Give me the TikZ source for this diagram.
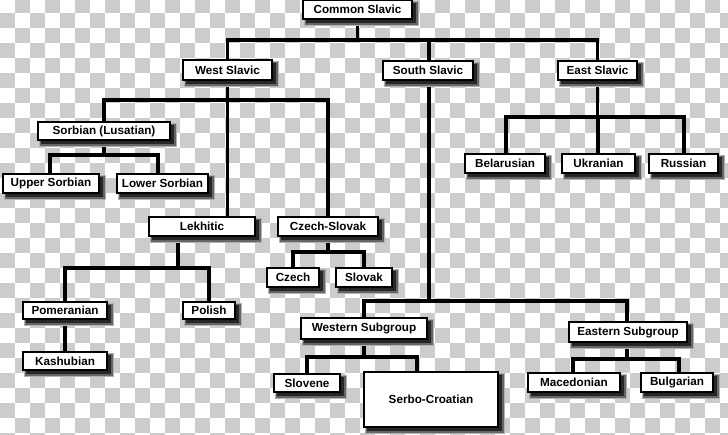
\documentclass[tikz,border=0pt]{standalone}
\usepackage{fontspec}
\setmainfont{Liberation Sans}
\usetikzlibrary{shadows,calc}
\pgfdeclarelayer{bg}
\pgfdeclarelayer{mid}
\pgfsetlayers{bg,mid,main}
\definecolor{chk}{RGB}{204,204,204}
\tikzset{
  lang/.style={draw=black, line width=2pt, fill=white, inner sep=0pt,
    font=\fontsize{11.7}{13}\selectfont\bfseries,
    general shadow={draw=black!30, fill=black!30, line width=6pt, shadow xshift=4pt, shadow yshift=-4pt},
    general shadow={draw=black!60, fill=black!60, line width=3.5pt, shadow xshift=4pt, shadow yshift=-4pt},
    general shadow={draw=black!85, fill=black!85, line width=1.5pt, shadow xshift=3.5pt, shadow yshift=-3.5pt}},
  conn/.style={line width=3.5pt, black},
}
\newcommand{\lbox}[6]{\node[lang, minimum width=#3, minimum height=#4] (#1) at (#5,#6) {#2};}
\begin{document}
\begin{tikzpicture}[x=1pt,y=-1pt]
\useasboundingbox (0,0) rectangle (728,434);
\begin{pgfonlayer}{bg}
\foreach \i in {0,2,...,48}{
  \foreach \j in {0,2,...,28}{
    \fill[fill=chk] ({15*\i+15},{15*\j-2.3}) rectangle ++(15,15);
    \fill[fill=chk] ({15*\i},{15*\j+12.7}) rectangle ++(15,15);
  }
}
\end{pgfonlayer}

\lbox{cs}{Common Slavic}{109pt}{19pt}{357.5}{9.5}
\lbox{ws}{West Slavic}{89pt}{20pt}{227.5}{70}
\lbox{ss}{South Slavic}{90pt}{19pt}{428}{70.5}
\lbox{es}{East Slavic}{79pt}{19pt}{597.5}{70.5}
\lbox{sorb}{Sorbian (Lusatian)}{132pt}{18pt}{104}{131}
\lbox{us}{Upper Sorbian}{96pt}{19pt}{51}{183.5}
\lbox{ls}{Lower Sorbian}{91pt}{19pt}{162.5}{183.5}
\lbox{lek}{Lekhitic}{106pt}{19pt}{202}{226.5}
\lbox{czs}{Czech-Slovak}{100pt}{19pt}{328}{226.5}
\lbox{cz}{Czech}{52pt}{19pt}{293}{277.5}
\lbox{sk}{Slovak}{56pt}{19pt}{364}{277.5}
\lbox{pom}{Pomeranian}{84pt}{17pt}{65}{310.5}
\lbox{pol}{Polish}{52pt}{17pt}{209}{310.5}
\lbox{kas}{Kashubian}{84pt}{18pt}{65}{361}
\lbox{wsg}{Western Subgroup}{126pt}{21pt}{364}{328.5}
\lbox{esg}{Eastern Subgroup}{118pt}{20pt}{628}{332}
\lbox{slo}{Slovene}{66pt}{18pt}{307}{383}
\lbox{sc}{Serbo-Croatian}{134pt}{55pt}{431}{399.5}
\lbox{mac}{Macedonian}{92pt}{19pt}{574}{382.5}
\lbox{bul}{Bulgarian}{72pt}{19pt}{677}{382.5}
\lbox{bel}{Belarusian}{80pt}{19pt}{505}{163.5}
\lbox{ukr}{Ukranian}{73pt}{19pt}{598.5}{163.5}
\lbox{rus}{Russian}{69pt}{19pt}{683.5}{163.5}

\begin{pgfonlayer}{mid}
% Common Slavic
\draw[conn] (cs.south) -- (cs.south |- 0,40) coordinate (b1);
\draw[conn] (b1) -| (ws.north);
\draw[conn] (b1) -| (ss.north -| 429,0);
\draw[conn] (b1) -| (es.north);
% West Slavic
\draw[conn] (ws.south) -- (ws.south |- lek.north);
\draw[conn] (ws.south |- 0,100) coordinate (b2) -| (sorb.north);
\draw[conn] (b2) -| (czs.north);
% Sorbian
\draw[conn] (sorb.south) -- (sorb.south |- 0,155) coordinate (b3);
\draw[conn] (b3) -| (us.north -| 50,0);
\draw[conn] (b3) -| (ls.north -| 158,0);
% Lekhitic
\draw[conn] (lek.south -| 178,0) -- (178,268) coordinate (b4);
\draw[conn] (b4) -| (pom.north);
\draw[conn] (b4) -| (pol.north);
\draw[conn] (pom.south) -- (kas.north);
% Czech-Slovak
\draw[conn] (czs.south) -- (czs.south |- 0,252) coordinate (b5);
\draw[conn] (b5) -| (cz.north);
\draw[conn] (b5) -| (sk.north);
% South Slavic
\draw[conn] (ss.south -| 429,0) -- (429,301) coordinate (b6);
\draw[conn] (b6) -| (wsg.north);
\draw[conn] (b6) -| (esg.north -| 627,0);
% Western Subgroup
\draw[conn] (wsg.south) -- (wsg.south |- 0,357) coordinate (b7);
\draw[conn] (b7) -| (slo.north);
\draw[conn] (b7) -| (sc.north -| 417,0);
% Eastern Subgroup
\draw[conn] (esg.south -| 627,0) -- (627,359) coordinate (b8);
\draw[conn] (b8) -| (mac.north -| 573,0);
\draw[conn] (b8) -| (bul.north -| 679,0);
% East Slavic
\draw[conn] (es.south) -- (es.south |- 0,117) coordinate (b9);
\draw[conn] (b9) -| (bel.north -| 506,0);
\draw[conn] (b9) -| (ukr.north -| 598,0);
\draw[conn] (b9) -| (rus.north -| 684,0);
\end{pgfonlayer}
\end{tikzpicture}
\end{document}
